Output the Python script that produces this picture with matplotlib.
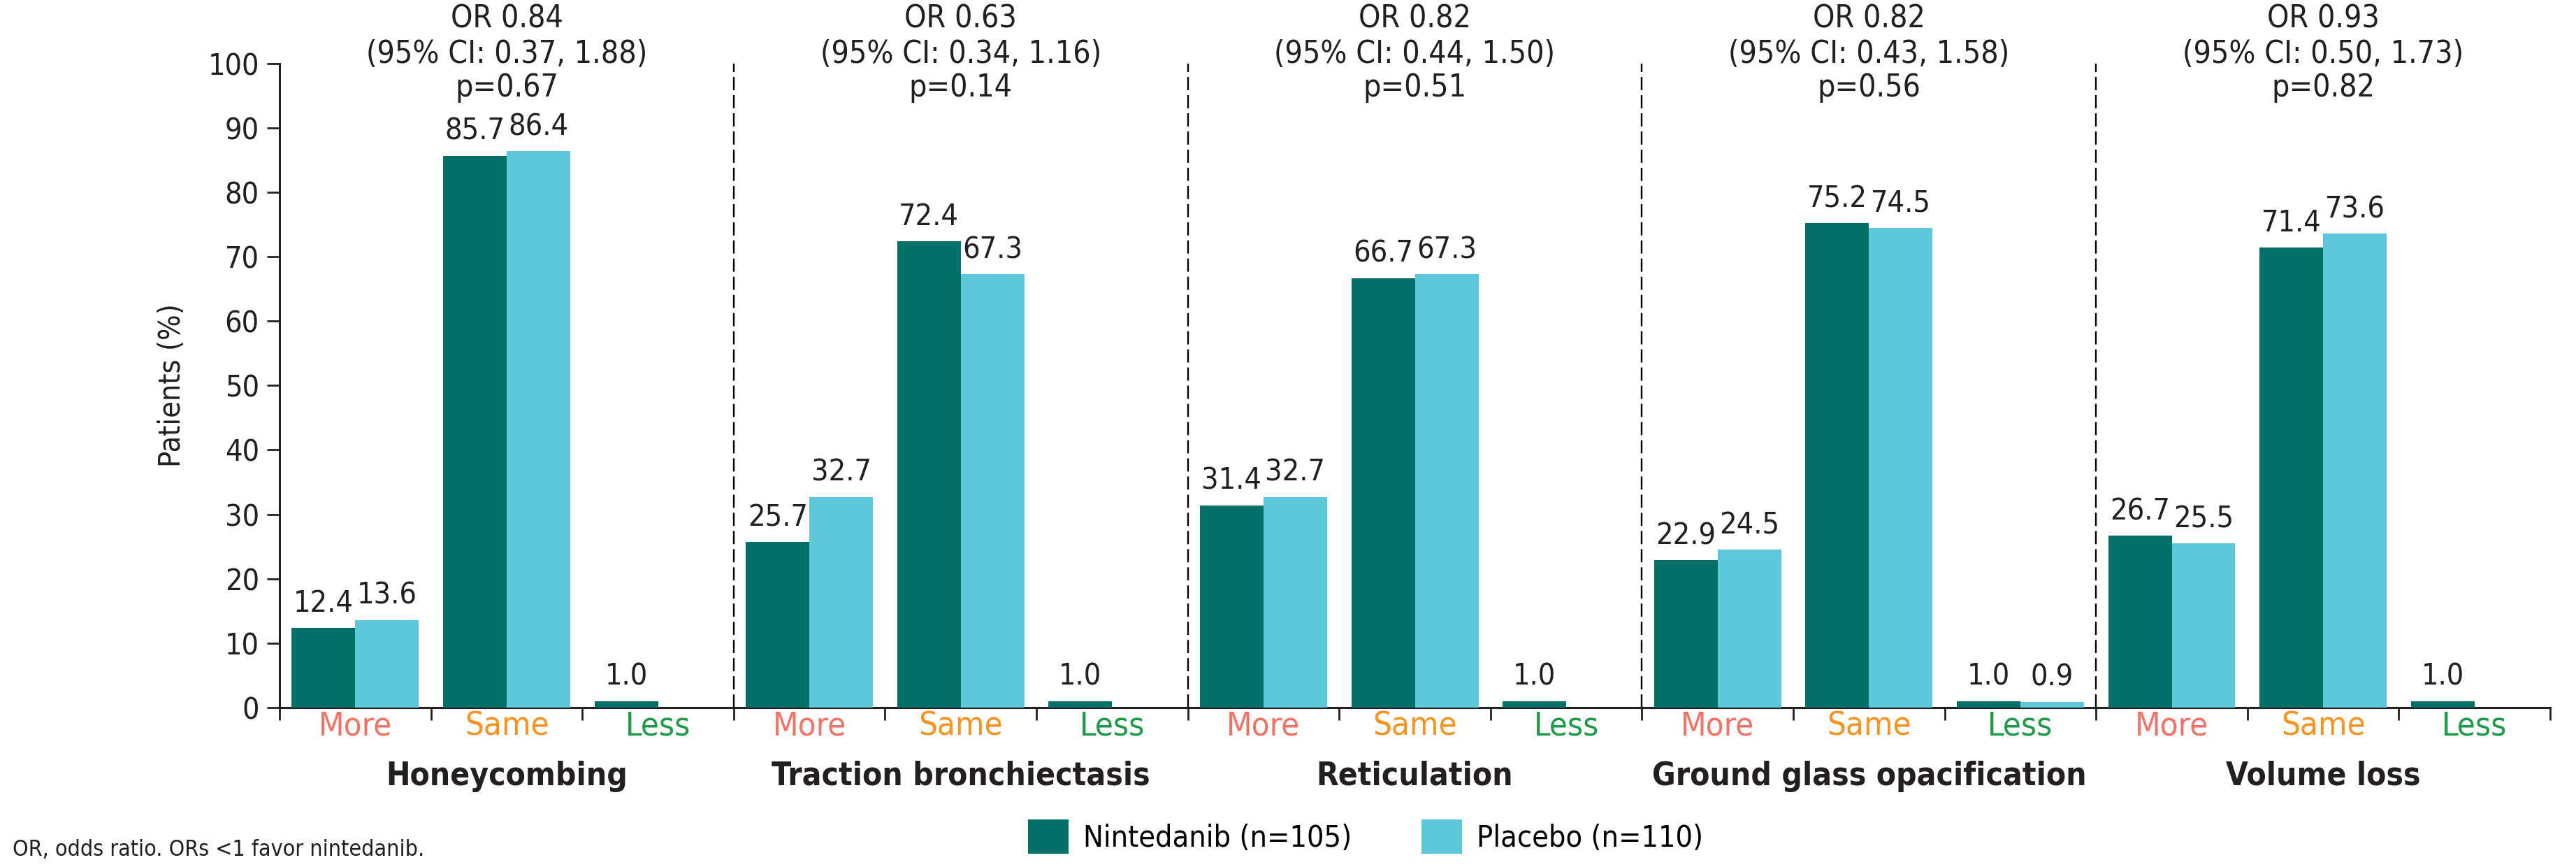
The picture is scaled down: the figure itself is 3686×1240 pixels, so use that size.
import numpy as np
import matplotlib
matplotlib.use("Agg")
import matplotlib.pyplot as plt
from matplotlib.patches import Patch
from matplotlib.transforms import blended_transform_factory

plt.rcParams['font.family'] = ['DejaVu Sans']
plt.rcParams['font.stretch'] = 'condensed'

# data
groups = ['Honeycombing', 'Traction bronchiectasis', 'Reticulation',
          'Ground glass opacification', 'Volume loss']
categories = ['More', 'Same', 'Less']
nintedanib = [12.4, 85.7, 1.0,
              25.7, 72.4, 1.0,
              31.4, 66.7, 1.0,
              22.9, 75.2, 1.0,
              26.7, 71.4, 1.0]
placebo = [13.6, 86.4, 0.0,
           32.7, 67.3, 0.0,
           32.7, 67.3, 0.0,
           24.5, 74.5, 0.9,
           25.5, 73.6, 0.0]
or_text = ['OR 0.84', 'OR 0.63', 'OR 0.82', 'OR 0.82', 'OR 0.93']
ci_text = ['(95% CI: 0.37, 1.88)', '(95% CI: 0.34, 1.16)', '(95% CI: 0.44, 1.50)',
           '(95% CI: 0.43, 1.58)', '(95% CI: 0.50, 1.73)']
p_text = ['p=0.67', 'p=0.14', 'p=0.51', 'p=0.56', 'p=0.82']
legend_labels = ['Nintedanib (n=105)', 'Placebo (n=110)']
footnote = 'OR, odds ratio. ORs <1 favor nintedanib.'

c_nin = '#03716A'
c_pla = '#5DC8DA'
cat_colors = {'More': '#F07366', 'Same': '#F7931E', 'Less': '#1D9A48'}
axis_col = '#231F20'

fig = plt.figure(figsize=(36.87, 12.4), dpi=100)
ax = fig.add_axes([0.1085, 0.184, 0.8812, 0.7427])

n = len(nintedanib)
x = np.arange(n) + 0.5
w = 0.42
b1 = ax.bar(x - w/2, nintedanib, w, color=c_nin, zorder=3)
b2 = ax.bar(x + w/2, placebo, w, color=c_pla, zorder=3)

for bars, vals in [(b1, nintedanib), (b2, placebo)]:
    for bar, v in zip(bars, vals):
        if v == 0:
            continue
        ax.annotate(f'{v:.1f}', (bar.get_x() + bar.get_width()/2, v),
                    xytext=(0, 10), textcoords='offset points',
                    ha='center', va='bottom', fontsize=31, color=axis_col)

ax.set_xlim(0, n)
ax.set_ylim(0, 100)
ax.set_yticks(np.arange(0, 101, 10))
ax.set_xticks(np.arange(0, n + 1))
ax.set_xticklabels([])
ax.tick_params(axis='both', length=13, width=2, color=axis_col, labelsize=31,
               labelcolor=axis_col)
ax.tick_params(axis='y', pad=8)
for s in ['top', 'right']:
    ax.spines[s].set_visible(False)
for s in ['left', 'bottom']:
    ax.spines[s].set_linewidth(2.2)
    ax.spines[s].set_color(axis_col)
ax.set_ylabel('Patients (%)', fontsize=31, color=axis_col, labelpad=22)

# group separators
for g in range(1, len(groups)):
    ax.axvline(g * 3, ymin=0, ymax=1, color='black', lw=1.7,
               linestyle=(0, (8, 3)), zorder=1)

tr = blended_transform_factory(ax.transData, ax.transAxes)
for i in range(n):
    cat = categories[i % 3]
    ax.text(x[i], -0.03, cat, transform=tr, ha='center', va='center',
            fontsize=34, color=cat_colors[cat])

for g, name in enumerate(groups):
    cx = g * 3 + 1.5
    ax.text(cx, -0.107, name, transform=tr, ha='center', va='center',
            fontsize=33, fontweight='bold', color=axis_col)
    ax.text(cx, 1.0695, or_text[g], transform=tr, ha='center', va='center',
            fontsize=32, color=axis_col, clip_on=False)
    ax.text(cx, 1.015, ci_text[g], transform=tr, ha='center', va='center',
            fontsize=32, color=axis_col, clip_on=False)
    ax.text(cx, 0.962, p_text[g], transform=tr, ha='center', va='center',
            fontsize=32, color=axis_col, clip_on=False)

handles = [Patch(facecolor=c_nin), Patch(facecolor=c_pla)]
fig.legend(handles, legend_labels, loc='center', bbox_to_anchor=(0.53, 0.035),
           ncol=2, frameon=False, fontsize=31, handlelength=1.35, handleheight=1.35,
           handletextpad=0.5, columnspacing=2.3)

fig.text(0.005, 0.02, footnote, fontsize=23, color=axis_col, ha='left', va='center')

fig.savefig('out.png', dpi=100)
